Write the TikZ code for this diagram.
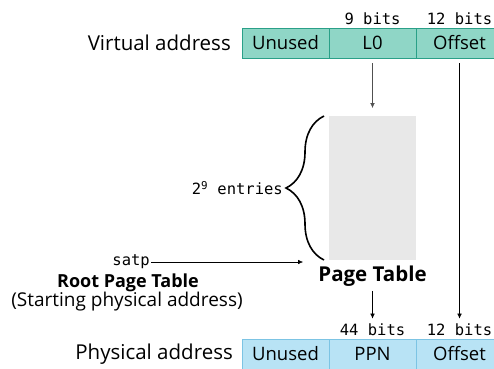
\documentclass[tikz,border=0pt]{standalone}
\usepackage{fontspec}
\setmainfont{Open Sans}
\setmonofont{DejaVu Sans Mono}
\usepackage{tikz}
\usetikzlibrary{positioning,arrows.meta,decorations.pathreplacing}
\tikzset{>={Latex[length=5pt,width=4.5pt]}}
\definecolor{vafill}{HTML}{8FD6C6}
\definecolor{vaedge}{HTML}{2AA088}
\definecolor{pafill}{HTML}{B8E3F5}
\definecolor{paedge}{HTML}{7CC4E4}
\definecolor{tablegray}{HTML}{E8E8E8}
\definecolor{arrowgray}{HTML}{505050}

\begin{document}
\begin{tikzpicture}[x=1pt,y=-1pt,
    field/.style={minimum width=87pt,minimum height=30pt,inner sep=0pt,outer sep=0pt,font=\fontsize{18.5}{18.5}\selectfont},
    vafield/.style={field,draw=vaedge,fill=vafill},
    pafield/.style={field,draw=paedge,fill=pafill},
    bits/.style={font=\ttfamily\fontsize{15.5}{15.5}\selectfont,inner sep=1pt},
    rowlabel/.style={anchor=east,font=\fontsize{20.5}{20.5}\selectfont,inner sep=0pt},
    tablename/.style={font=\bfseries\fontsize{18}{18}\selectfont,inner sep=0pt}]
            \useasboundingbox (0,0) rectangle (494,368);
            \clip (0,0) rectangle (494,368);

            % Virtual address
            \node[vafield] (vunused) at (285.5,43) {Unused};
            \node[vafield,right=0pt of vunused] (vlzero) {L0};
            \node[vafield,right=0pt of vlzero] (voffset) {Offset};
            \node[rowlabel] (vlabel) at (231,43) {Virtual address};
            \node[bits,above=2pt of vlzero] (vbits) {9 bits};
            \node[bits,above=2pt of voffset] (voffbits) {12 bits};

            % Page table
            \node[fill=tablegray,minimum width=87pt,minimum height=144pt,inner sep=0pt,outer sep=0pt] (ptable) at (372.5,188) {};
            \node[tablename,font=\bfseries\fontsize{20.5}{20.5}\selectfont,below=6pt of ptable] (ptname) {Page Table};
            \coordinate (bracetop) at ([xshift=-5pt]ptable.north west);
            \coordinate (bracebot) at ([xshift=-5pt]ptable.south west);
            \draw[decorate,decoration={brace,amplitude=38pt},line width=1.6pt] (bracebot) -- (bracetop);
            \node[bits,anchor=east] (entries) at ([xshift=-45pt]ptable.west) {2\textsuperscript{9} entries};

            % satp
            \node[bits,anchor=east] (satp) at (151,262) {satp};
            \coordinate (satpend) at ([xshift=-26pt,yshift=-2pt]ptable.south west);
            \draw[->] (satp) -- (satpend);
            \node[tablename] (rootname) at (128,283) {Root Page Table};
            \node[font=\fontsize{19}{19}\selectfont,inner sep=0pt] (rootnote) at (127,302) {(Starting physical address)};

            % Physical address
            \node[pafield] (punused) at (285.5,354) {Unused};
            \node[pafield,right=0pt of punused] (pppn) {PPN};
            \node[pafield,right=0pt of pppn] (poffset) {Offset};
            \node[rowlabel] (plabel) at (233,354) {Physical address};
            \node[bits,above=2pt of pppn] (pbits) {44 bits};
            \node[bits,above=2pt of poffset] (poffbits) {12 bits};

            \draw[->,arrowgray] ([yshift=-5pt]vlzero.south) -- ([yshift=8pt]ptable.north);
            \draw[->] ([yshift=-4pt]ptname.south) -- ([yshift=4pt]pbits.north);
            \draw[->] ([yshift=-5pt]voffset.south) -- ([yshift=4pt]poffbits.north);
        \end{tikzpicture}
\end{document}
